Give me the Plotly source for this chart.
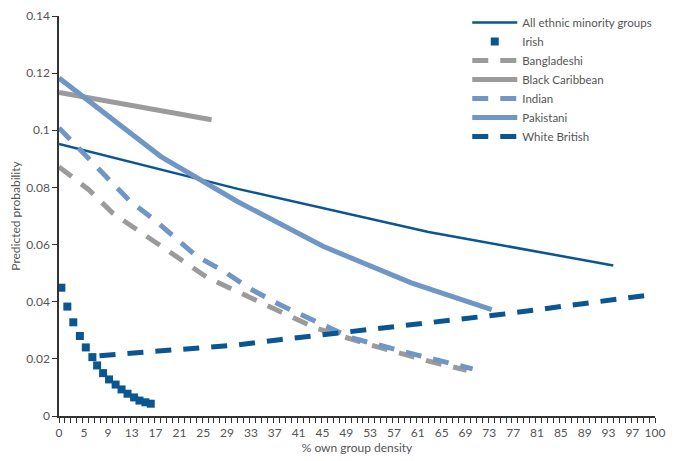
import plotly.graph_objects as go

# ---- data ----
all_x = [0, 30, 62, 93]
all_y = [0.0952, 0.0795, 0.0644, 0.0527]

irish_x = [0.4, 1.4, 2.4, 3.5, 4.5, 5.6, 6.4, 7.4, 8.4, 9.5, 10.5, 11.5, 12.6, 13.5, 14.5, 15.4]
irish_y = [0.0449, 0.0383, 0.0328, 0.0280, 0.0240, 0.0206, 0.0177, 0.0150,
           0.0128, 0.0110, 0.0093, 0.0078, 0.0065, 0.0054, 0.0048, 0.0043]

bang_x = [0, 5, 9, 17, 25, 34, 43, 52, 62, 68.4]
bang_y = [0.0872, 0.0792, 0.0710, 0.0594, 0.0483, 0.0396, 0.0308, 0.0250, 0.0192, 0.0160]

bcar_x = [0, 25.6]
bcar_y = [0.1132, 0.1037]

ind_x = [0, 5, 12, 16, 23, 28, 32, 37, 49, 59, 69.4]
ind_y = [0.1008, 0.0900, 0.0750, 0.0687, 0.0561, 0.0502, 0.0446, 0.0390, 0.0274, 0.0219, 0.0165]

pak_x = [0, 17.1, 30, 44.3, 59.1, 72.6]
pak_y = [0.1183, 0.0908, 0.0750, 0.0594, 0.0466, 0.0372]

wb_x = [6.8, 30, 37, 50, 74, 99.2]
wb_y = [0.0211, 0.0249, 0.0267, 0.0298, 0.0355, 0.0424]

x_tick_labels = [0, 5, 9, 13, 17, 21, 25, 29, 33, 37, 41, 45, 49, 53, 57, 61,
                 65, 69, 73, 77, 81, 85, 89, 93, 97, 100]
y_tick_vals = [0, 0.02, 0.04, 0.06, 0.08, 0.1, 0.12, 0.14]
y_tick_text = ["0", "0.02", "0.04", "0.06", "0.08", "0.1", "0.12", "0.14"]

# label positions as drawn in the reference (category-style axis: labels sit ~0.8 left)
x_tick_pos = [v if v in (0, 100) else v - 0.8 for v in x_tick_labels]

DARK = "#0a5592"
LIGHT = "#7096c6"
GREY = "#9b9b9b"
TXT = "#555555"
AX = "#333333"
FONT = "Lato, 'Open Sans', sans-serif"

fig = go.Figure()
fig.add_trace(go.Scatter(x=all_x, y=all_y, mode="lines", name="All ethnic minority groups",
                         line=dict(color=DARK, width=2.5)))
fig.add_trace(go.Scatter(x=irish_x, y=irish_y, mode="markers", name="Irish",
                         marker=dict(color=DARK, symbol="square", size=8)))
fig.add_trace(go.Scatter(x=bang_x, y=bang_y, mode="lines", name="Bangladeshi",
                         line=dict(color=GREY, width=5, dash="16px,12px")))
fig.add_trace(go.Scatter(x=bcar_x, y=bcar_y, mode="lines", name="Black Caribbean",
                         line=dict(color=GREY, width=5)))
fig.add_trace(go.Scatter(x=ind_x, y=ind_y, mode="lines", name="Indian",
                         line=dict(color=LIGHT, width=5, dash="16px,12px")))
fig.add_trace(go.Scatter(x=pak_x, y=pak_y, mode="lines", name="Pakistani",
                         line=dict(color=LIGHT, width=5)))
fig.add_trace(go.Scatter(x=wb_x, y=wb_y, mode="lines", name="White British",
                         line=dict(color=DARK, width=5, dash="16px,12px")))

# page body has an 8px margin, so the figure is sized/offset to compensate
fig.update_layout(
    width=668, height=453,
    margin=dict(l=51, r=21, t=0, b=45),
    paper_bgcolor="white", plot_bgcolor="white",
    font=dict(family=FONT, size=12, color=TXT),
    showlegend=True,
    legend=dict(x=0.685, y=1.0, xanchor="left", yanchor="top",
                bgcolor="rgba(0,0,0,0)", font=dict(size=11.5, color=TXT),
                itemwidth=45, tracegroupgap=0),
    xaxis=dict(range=[0, 100], showgrid=False, zeroline=False, automargin=False,
               showline=True, linecolor=AX, linewidth=1.5,
               tickmode="array", tickvals=x_tick_pos,
               ticktext=[str(v) for v in x_tick_labels], tickangle=0,
               ticks="outside", ticklen=5, tickcolor="rgba(0,0,0,0)",
               minor=dict(tickmode="linear", tick0=0, dtick=1, ticks="outside",
                          ticklen=5, tickcolor=AX, showgrid=False),
               title=dict(text="% own group density", standoff=2, font=dict(size=12, color=TXT)),
               tickfont=dict(size=12, color=TXT)),
    yaxis=dict(range=[0, 0.14], domain=[0, 400 / 408], showgrid=False, zeroline=False,
               automargin=False,
               showline=True, linecolor=AX, linewidth=1.5,
               tickmode="array", tickvals=y_tick_vals, ticktext=y_tick_text,
               ticks="outside", ticklen=5, tickcolor=AX,
               title=dict(text="Predicted probability", standoff=3, font=dict(size=12, color=TXT)),
               tickfont=dict(size=12, color=TXT)),
)

fig.write_html("out.html")
